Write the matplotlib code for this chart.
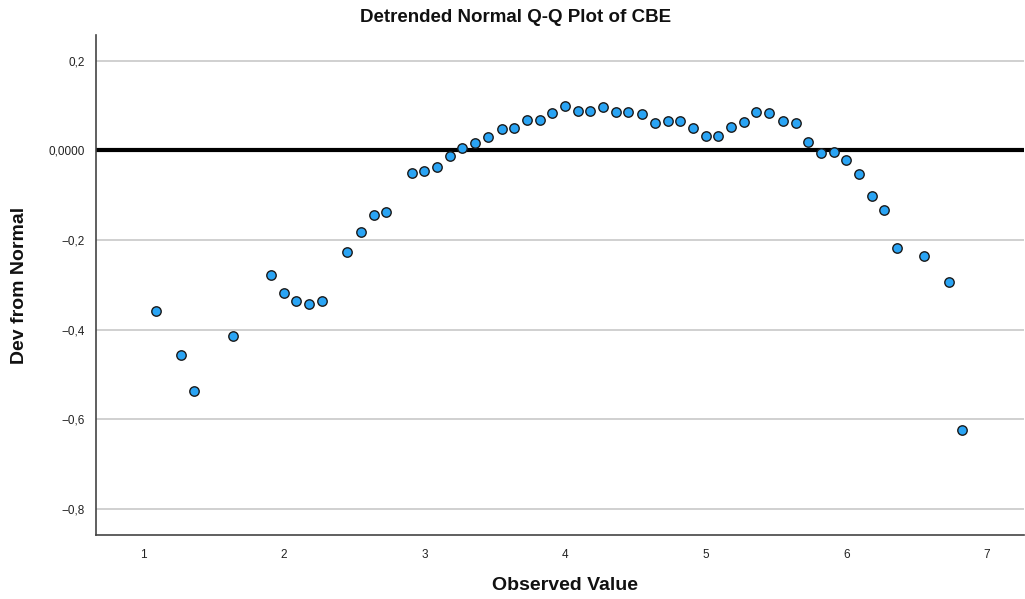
import matplotlib
matplotlib.use("Agg")
import matplotlib.pyplot as plt
from matplotlib.ticker import FuncFormatter

observed = [1.09, 1.27, 1.36, 1.64, 1.91, 2.00, 2.09, 2.18, 2.27, 2.45, 2.55, 2.64, 2.73,
            2.91, 3.00, 3.09, 3.18, 3.27, 3.36, 3.45, 3.55, 3.64, 3.73, 3.82, 3.91, 4.00,
            4.09, 4.18, 4.27, 4.36, 4.45, 4.55, 4.64, 4.73, 4.82, 4.91, 5.00, 5.09, 5.18,
            5.27, 5.36, 5.45, 5.55, 5.64, 5.73, 5.82, 5.91, 6.00, 6.09, 6.18, 6.27, 6.36,
            6.55, 6.73, 6.82]
dev_from_normal = [-0.359, -0.457, -0.537, -0.415, -0.279, -0.318, -0.336, -0.342, -0.336,
                   -0.226, -0.182, -0.144, -0.138, -0.050, -0.047, -0.038, -0.013, 0.006,
                   0.017, 0.030, 0.048, 0.050, 0.067, 0.068, 0.083, 0.100, 0.088, 0.088,
                   0.096, 0.086, 0.085, 0.080, 0.060, 0.066, 0.066, 0.050, 0.032, 0.032,
                   0.051, 0.063, 0.085, 0.083, 0.066, 0.060, 0.018, -0.007, -0.003, -0.022,
                   -0.053, -0.102, -0.133, -0.217, -0.236, -0.294, -0.625]
x_ticks = [1, 2, 3, 4, 5, 6, 7]
y_ticks = [0.2, 0.0, -0.2, -0.4, -0.6, -0.8]

plt.rcParams['font.family'] = ['Liberation Sans', 'DejaVu Sans']

fig = plt.figure(figsize=(10.25, 5.99), dpi=100)
ax = fig.add_axes([96/1025, 1 - 535/599, (1024 - 96)/1025, (535 - 35)/599])

ax.set_xlim(0.666, 7.263)
ax.set_ylim(-0.8587, 0.2574)

for yv in y_ticks:
    ax.axhline(yv, color='#c8c8c8', lw=1.2, zorder=1)
ax.axhline(0, color='black', lw=3, zorder=2)

ax.scatter(observed, dev_from_normal, s=46, facecolor='#2aa4f4', edgecolor='#1a1a1a',
           linewidths=1.0, zorder=3)

ax.set_xticks(x_ticks)
ax.set_yticks(y_ticks)

def yfmt(v, pos):
    if abs(v) < 1e-9:
        return '0,0000'
    return ('%.1f' % v).replace('.', ',').replace('-', '\u2212')

ax.yaxis.set_major_formatter(FuncFormatter(yfmt))
ax.tick_params(axis='both', length=0, labelsize=8.5, colors='#222222', pad=8)
ax.tick_params(axis='x', pad=10)

for s in ['top', 'right']:
    ax.spines[s].set_visible(False)
for s in ['left', 'bottom']:
    ax.spines[s].set_color('#444444')
    ax.spines[s].set_linewidth(1.2)

fig.text(516/1025, 1 - 17/599, 'Detrended Normal Q-Q Plot of CBE', ha='center', va='center',
         fontsize=13.5, fontweight='bold', color='#111111')
fig.text(565/1025, 1 - 585/599, 'Observed Value', ha='center', va='center',
         fontsize=14, fontweight='bold', color='#111111')
fig.text(20/1025, 1 - 285/599, 'Dev from Normal', ha='center', va='center', rotation=90,
         fontsize=14, fontweight='bold', color='#111111')

fig.savefig('out.png', dpi=100)
